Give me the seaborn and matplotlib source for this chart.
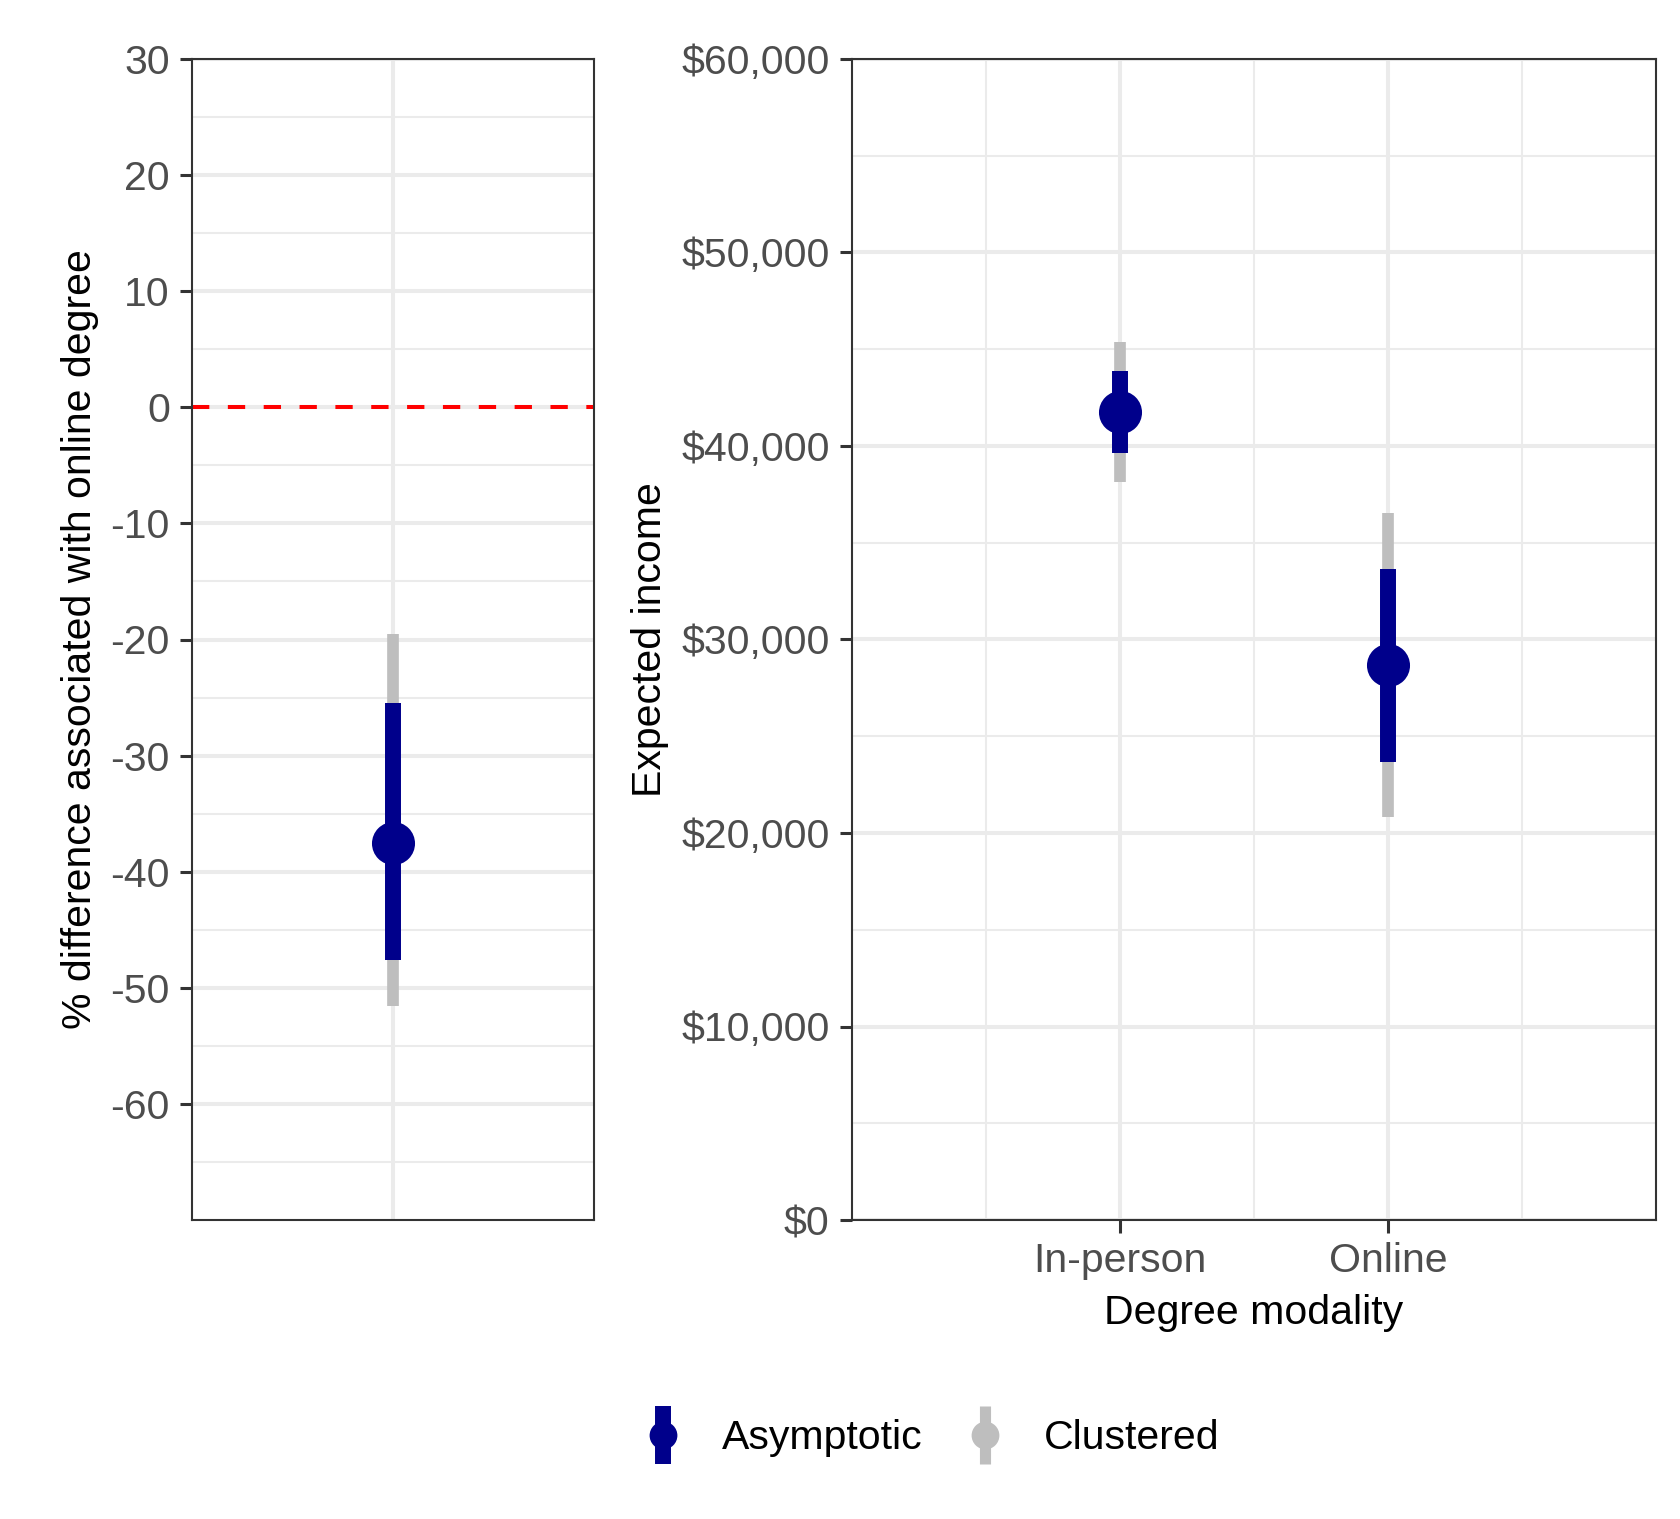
import matplotlib
matplotlib.use("Agg")
import matplotlib.pyplot as plt
import seaborn as sns
import numpy as np
import pandas as pd
from matplotlib.lines import Line2D
from matplotlib.legend_handler import HandlerTuple

# ---------------- data ----------------
diff_category = ["Online degree"]
diff_estimate = [-37.5]
diff_asym_low = [-47.6]
diff_asym_high = [-25.5]
diff_clus_low = [-51.6]
diff_clus_high = [-19.5]

modality = ["In-person", "Online"]
income_estimate = [41760, 28670]
income_asym_low = [39640, 23670]
income_asym_high = [43860, 33635]
income_clus_low = [38140, 20830]
income_clus_high = [45350, 36550]

left_yticks = [30, 20, 10, 0, -10, -20, -30, -40, -50, -60]
left_ytick_labels = ["30", "20", "10", "0", "-10", "-20", "-30", "-40", "-50", "-60"]
right_yticks = [0, 10000, 20000, 30000, 40000, 50000, 60000]
right_ytick_labels = ["$0", "$10,000", "$20,000", "$30,000", "$40,000", "$50,000", "$60,000"]

legend_labels = ["Asymptotic", "Clustered"]

# ---------------- style ----------------
sns.set_theme(style="white")
plt.rcParams["font.family"] = ["Liberation Sans", "DejaVu Sans"]
plt.rcParams["axes.unicode_minus"] = False

BLUE = "#00008B"
GREY = "#BEBEBE"
GRID = "#EBEBEB"
DARK = "#333333"
TICKTXT = "#4D4D4D"
FS = 29.5

W, H = 1680, 1519
fig = plt.figure(figsize=(W / 100, H / 100), dpi=100)

top_px, bot_px = 59, 1220
axL = fig.add_axes([192 / W, (H - bot_px) / H, (594 - 192) / W, (bot_px - top_px) / H])
axR = fig.add_axes([852 / W, (H - bot_px) / H, (1656 - 852) / W, (bot_px - top_px) / H])


def style_axes(ax, xticks=True):
    for s in ax.spines.values():
        s.set_color(DARK)
        s.set_linewidth(1.5)
        s.set_zorder(5)
    ax.set_axisbelow(True)
    ax.tick_params(which="major", length=9, width=2.2, color=DARK,
                   labelsize=FS, labelcolor=TICKTXT, pad=7,
                   left=True, bottom=xticks, right=False, top=False)
    ax.tick_params(which="minor", length=0)


# ---------- left panel ----------
dfL = pd.DataFrame({"cat": diff_category, "est": diff_estimate,
                    "alo": diff_asym_low, "ahi": diff_asym_high,
                    "clo": diff_clus_low, "chi": diff_clus_high})
xL = np.arange(len(dfL))
axL.vlines(xL, dfL["clo"], dfL["chi"], color=GREY, lw=8.4, capstyle="butt", zorder=3)
axL.vlines(xL, dfL["alo"], dfL["ahi"], color=BLUE, lw=11.5, capstyle="butt", zorder=4)
sns.scatterplot(x=xL, y=dfL["est"], ax=axL, color=BLUE, s=31 ** 2, linewidth=0, zorder=6, legend=False)
axL.axhline(0, color="red", lw=2.9, ls=(0, (4.3, 4.6)), zorder=2)

axL.set_xlim(-0.5, 0.5)
axL.set_ylim(-70, 30)
axL.set_yticks(left_yticks)
axL.set_yticklabels(left_ytick_labels)
axL.set_yticks(np.arange(-65, 30, 10), minor=True)
axL.set_xticks([0])
axL.set_xticklabels([])
axL.grid(which="major", color=GRID, lw=2.9)
axL.grid(which="minor", axis="y", color=GRID, lw=1.45)
style_axes(axL, xticks=False)
axL.set_xlabel("")
axL.set_ylabel("% difference associated with online degree", fontsize=FS, color="black")
axL.yaxis.set_label_coords((99 - 192) / (594 - 192), 0.5)

# ---------- right panel ----------
dfR = pd.DataFrame({"mod": modality, "est": income_estimate,
                    "alo": income_asym_low, "ahi": income_asym_high,
                    "clo": income_clus_low, "chi": income_clus_high})
xR = np.arange(len(dfR))
axR.vlines(xR, dfR["clo"], dfR["chi"], color=GREY, lw=8.4, capstyle="butt", zorder=3)
axR.vlines(xR, dfR["alo"], dfR["ahi"], color=BLUE, lw=11.5, capstyle="butt", zorder=4)
sns.scatterplot(x=xR, y=dfR["est"], ax=axR, color=BLUE, s=31 ** 2, linewidth=0, zorder=6, legend=False)

axR.set_xlim(-1, 2)
axR.set_ylim(0, 60000)
axR.set_xticks(xR)
axR.set_xticklabels(modality)
axR.set_xticks([-0.5, 0.5, 1.5], minor=True)
axR.set_yticks(right_yticks)
axR.set_yticklabels(right_ytick_labels)
axR.set_yticks(np.arange(5000, 60000, 10000), minor=True)
axR.grid(which="major", color=GRID, lw=2.9)
axR.grid(which="minor", color=GRID, lw=1.45)
style_axes(axR, xticks=True)
axR.set_xlabel("Degree modality", fontsize=FS, color="black")
axR.xaxis.set_label_coords(0.5, (bot_px - 1294) / (bot_px - top_px))
axR.set_ylabel("Expected income", fontsize=FS, color="black")
axR.yaxis.set_label_coords((669 - 852) / (1656 - 852), 0.5)

# ---------- legend ----------
handles = []
for col, lw in [(BLUE, 11.5), (GREY, 8.0)]:
    bar = Line2D([], [], ls="none", marker="|", markersize=41.8, markeredgewidth=lw, color=col)
    dot = Line2D([], [], ls="none", marker="o", markersize=20, markeredgewidth=0, color=col)
    handles.append((bar, dot))
fig.legend(handles, legend_labels, handler_map={tuple: HandlerTuple(ndivide=1, pad=0)},
           loc="center", bbox_to_anchor=(931 / W, 1 - 1438 / H), ncol=2, frameon=False,
           fontsize=FS, handlelength=1.0, handletextpad=0.94, columnspacing=1.02,
           labelcolor="black")

fig.savefig("out.png", dpi=100)
